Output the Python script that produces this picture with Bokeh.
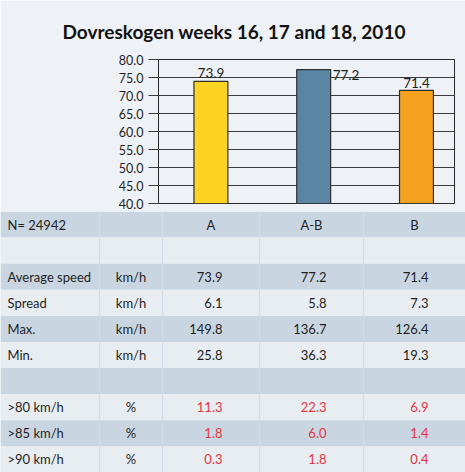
from bokeh.plotting import figure
from bokeh.models import Range1d, ColumnDataSource, FixedTicker, NumeralTickFormatter, Title
from bokeh.core.properties import value
from bokeh.embed import file_html
from bokeh.resources import INLINE

# ---- data -------------------------------------------------------------
title_text = "Dovreskogen weeks 16, 17 and 18, 2010"
categories = ["A", "A-B", "B"]
avg_speed = [73.9, 77.2, 71.4]
spread = [6.1, 5.8, 7.3]
max_speed = [149.8, 136.7, 126.4]
min_speed = [25.8, 36.3, 19.3]
over_80 = [11.3, 22.3, 6.9]
over_85 = [1.8, 6.0, 1.4]
over_90 = [0.3, 1.8, 0.4]
n_total = 24942
y_ticks = [40, 45, 50, 55, 60, 65, 70, 75, 80]

# ---- styling ----------------------------------------------------------
FONT = "Lato"
BG = "#eef1f5"
ROW_DARK = "#c9d6e2"
ROW_LIGHT = "#e8edf2"
SEP = "#d3dce6"
RED = "#e2343f"
bar_colors = ["#fdd324", "#5b86a3", "#f4a11f"]
label_align = ["center", "left", "center"]
label_dx = [0, 19, 0]
label_dy = [-3, 5, -2]
label_baseline = ["bottom", "middle", "bottom"]

# ---- bar chart --------------------------------------------------------
W = 465
chart = figure(width=W, height=211, output_backend="svg", toolbar_location=None,
               x_range=Range1d(-0.01, 2.87), y_range=Range1d(40, 80),
               x_axis_location=None, min_border_left=158, min_border_right=11,
               min_border_top=59, min_border_bottom=8,
               background_fill_color=BG, border_fill_color=BG)
chart.outline_line_color = "#2b2b2b"
chart.outline_line_width = 1
chart.xgrid.visible = False
chart.ygrid.grid_line_color = "#3a3a3a"
chart.ygrid.grid_line_width = 1
chart.yaxis.ticker = FixedTicker(ticks=y_ticks)
chart.yaxis.formatter = NumeralTickFormatter(format="0.0")
chart.yaxis.axis_line_color = "#2b2b2b"
chart.yaxis.major_tick_line_color = "#3a3a3a"
chart.yaxis.major_tick_out = 10
chart.yaxis.major_tick_in = 0
chart.yaxis.minor_tick_line_color = None
chart.yaxis.major_label_standoff = 5
chart.yaxis.major_label_text_font = FONT
chart.yaxis.major_label_text_font_size = "12.5px"
chart.yaxis.major_label_text_color = "#1e1e1e"

title = Title(text=title_text, align="left", offset=-96,
              text_font=FONT, text_font_size="19px", text_font_style="bold",
              text_color="#111111", standoff=33)
chart.add_layout(title, "above")

xs = [i + 0.5 for i in range(len(categories))]
src = ColumnDataSource(dict(x=xs, top=avg_speed, color=bar_colors,
                            label=[f"{v:.1f}" for v in avg_speed],
                            align=label_align, dx=label_dx, dy=label_dy,
                            baseline=label_baseline))
chart.vbar(x="x", top="top", bottom=40, width=0.33, source=src,
           fill_color="color", line_color="#2e2e2e", line_width=1.2)
chart.text(x="x", y="top", text="label", source=src, x_offset="dx", y_offset="dy",
           text_align="align", text_baseline="baseline",
           text_font=value(FONT), text_font_size="13.5px", text_color="#1e1e1e")

# ---- table ------------------------------------------------------------
col_edges = [0, 99, 162, 259, 363, 465]
row_names = [f"N= {n_total}", "", "Average speed", "Spread", "Max.", "Min.", "",
             ">80 km/h", ">85 km/h", ">90 km/h"]
row_units = ["", "", "km/h", "km/h", "km/h", "km/h", "", "%", "%", "%"]
row_values = [None, None, avg_speed, spread, max_speed, min_speed, None,
              over_80, over_85, over_90]
row_red = [False] * 7 + [True] * 3
n_rows = len(row_names)

table = figure(width=W, height=261, output_backend="svg", toolbar_location=None,
               x_range=Range1d(0, W), y_range=Range1d(n_rows, 0),
               x_axis_location=None, y_axis_location=None,
               min_border=0, background_fill_color=BG, border_fill_color=BG)
table.outline_line_color = None
table.grid.visible = False

table.quad(left=0, right=W, bottom=[i + 1 for i in range(n_rows)],
           top=list(range(n_rows)),
           fill_color=[ROW_DARK if i % 2 == 0 else ROW_LIGHT for i in range(n_rows)],
           line_color=None)
table.segment(x0=col_edges[1:-1], x1=col_edges[1:-1], y0=0, y1=n_rows,
              line_color=SEP, line_width=1.2)

text_kw = dict(text_font=value(FONT), text_font_size="13px", text_baseline="middle")
mid = [i + 0.5 for i in range(n_rows)]
table.text(x=7, y=mid, text=row_names, text_align="left", text_color="#1e1e1e", **text_kw)
table.text(x=(col_edges[1] + col_edges[2]) / 2, y=mid, text=row_units,
           text_align="center", text_color="#1e1e1e", **text_kw)

# header with category names
header_x = [(col_edges[k + 2] + col_edges[k + 3]) / 2 for k in range(len(categories))]
table.text(x=header_x, y=0.5, text=categories, text_align="center",
           text_color="#1e1e1e", **text_kw)

# numeric cells, right aligned inside each category column
vx, vy, vt, vc = [], [], [], []
for i, vals in enumerate(row_values):
    if vals is None:
        continue
    for k, v in enumerate(vals):
        vx.append(col_edges[k + 3] - 37)
        vy.append(i + 0.5)
        vt.append(f"{v:.1f}")
        vc.append(RED if row_red[i] else "#1e1e1e")
table.text(x=vx, y=vy, text=vt, text_color=vc, text_align="right", **text_kw)

open("out.html", "w").write(file_html((chart, table), INLINE))
